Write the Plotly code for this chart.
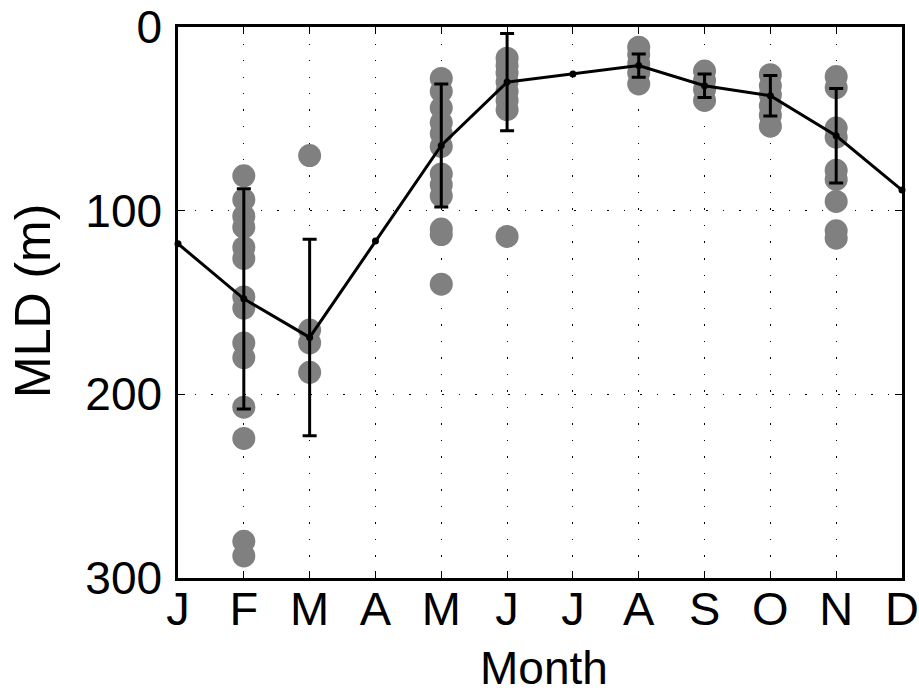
import plotly.graph_objects as go

months = ["J", "F", "M", "A", "M", "J", "J", "A", "S", "O", "N", "D"]
month_num = list(range(1, 13))

# monthly mean MLD (m)
mean_mld = [118, 148, 169, 116.5, 64.5, 30, 25.6, 21, 32, 37.4, 59.2, 88.8]
# standard deviation (None = no error bar)
std_mld = [None, 60, 53.5, None, 33.5, 26.5, None, 6.3, 6.4, 11, 25.7, None]

# individual MLD observations per month
obs = {
    2: [81, 94, 103, 109, 120, 126, 147, 153, 172, 180, 207, 224, 280, 288],
    3: [70, 165, 172, 188],
    5: [28, 35, 44, 52, 58, 65, 80, 86, 92, 110, 113, 140],
    6: [17, 21, 25, 30, 35, 40, 45, 114],
    8: [11, 15, 20, 25, 31],
    9: [24, 29, 34, 40],
    10: [26, 32, 37, 43, 48, 54],
    11: [27, 33, 55, 60, 78, 83, 95, 111, 115],
}

ox, oy = [], []
for m, vals in obs.items():
    ox += [m] * len(vals)
    oy += vals

fig = go.Figure()
fig.add_trace(go.Scatter(x=ox, y=oy, mode="markers",
                         marker=dict(size=23, color="#808080", line=dict(width=0)),
                         showlegend=False, cliponaxis=False))
fig.add_trace(go.Scatter(x=month_num, y=mean_mld, mode="lines+markers",
                         line=dict(color="black", width=3),
                         marker=dict(size=7, color="black"),
                         showlegend=False, cliponaxis=False))
ex = [m for m, s in zip(month_num, std_mld) if s is not None]
ey = [v for v, s in zip(mean_mld, std_mld) if s is not None]
es = [s for s in std_mld if s is not None]
fig.add_trace(go.Scatter(x=ex, y=ey, mode="markers", marker=dict(size=1, color="black"),
                         error_y=dict(type="data", array=es, symmetric=True,
                                      color="black", thickness=3, width=7),
                         showlegend=False, cliponaxis=False))

font = "Liberation Sans, Arial, Helvetica, sans-serif"
fig.update_layout(
    width=919, height=696,
    margin=dict(l=178, r=17, t=27, b=118),
    paper_bgcolor="white", plot_bgcolor="white",
    font=dict(family=font, size=46, color="black"),
    xaxis=dict(range=[1, 12], tickvals=month_num, ticktext=months,
               tickfont=dict(size=47), automargin=False, ticklabeloverflow="allow",
               showgrid=True, gridcolor="black", gridwidth=1, griddash="1.5px,15px",
               ticks="inside", ticklen=7, tickwidth=1, tickcolor="black",
               showline=True, linecolor="black", linewidth=2.5, mirror="allticks",
               zeroline=False, ticklabelstandoff=-12),
    yaxis=dict(range=[300, 0], tickvals=[0, 100, 200, 300],
               tickfont=dict(size=46), automargin=False, ticklabeloverflow="allow",
               showgrid=True, gridcolor="black", gridwidth=1, griddash="1.5px,15px",
               ticks="inside", ticklen=7, tickwidth=1, tickcolor="black",
               showline=True, linecolor="black", linewidth=2.5, mirror="allticks",
               zeroline=False, ticklabelstandoff=4),
    annotations=[
        dict(text="Month", xref="paper", yref="paper", x=0.505, y=-0.2142,
             xanchor="center", yanchor="bottom", showarrow=False,
             font=dict(size=46)),
        dict(text="MLD (m)", xref="paper", yref="paper", x=-0.2003, y=0.5027,
             xanchor="center", yanchor="middle", showarrow=False, textangle=-90,
             font=dict(size=50)),
    ],
)

fig.write_html("out.html")
